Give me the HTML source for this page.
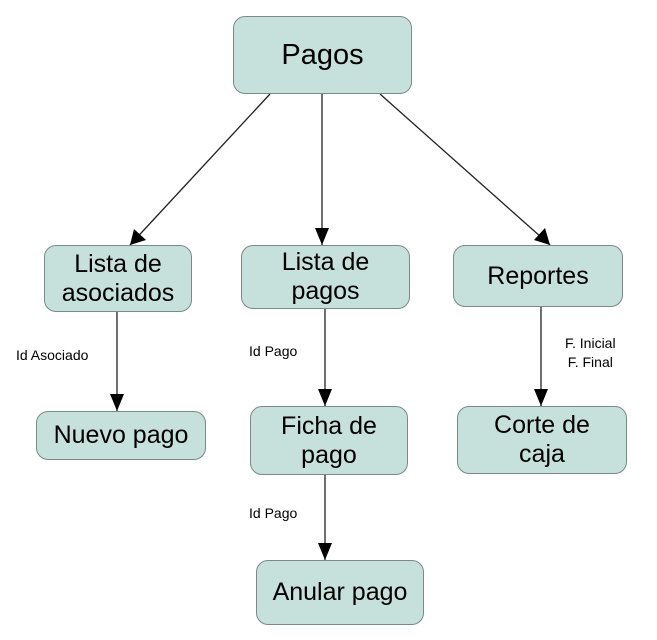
<!DOCTYPE html>
<html><head><style>
body{margin:0;background:#fff;width:657px;height:640px;overflow:hidden;font-family:"Liberation Sans",sans-serif}
.b{position:absolute;background:#c6e0dc;border:1.5px solid #7a8a88;border-radius:12px;box-sizing:border-box;display:flex;align-items:center;justify-content:center;text-align:center;font-size:25px;line-height:29px;color:#000}
.l{position:absolute;font-size:14px;line-height:19px;color:#000}
</style></head><body>
<svg width="657" height="640" style="position:absolute;left:0;top:0">
<g stroke="#222" stroke-width="1.3" fill="none">
<line x1="270" y1="94" x2="130" y2="245"/>
<line x1="322" y1="94" x2="322" y2="245"/>
<line x1="380" y1="94" x2="550" y2="245"/>
<line x1="117" y1="312" x2="117" y2="411"/>
<line x1="325" y1="309" x2="325" y2="406"/>
<line x1="541" y1="307" x2="541" y2="406"/>
<line x1="325" y1="475" x2="325" y2="560"/>
</g>
<g fill="#000">
<polygon points="130,245 134,229 146,240"/>
<polygon points="322,245 315,228 329,228"/>
<polygon points="550,245 534,240 545,228"/>
<polygon points="117,411 110,394 124,394"/>
<polygon points="325,406 318,389 332,389"/>
<polygon points="541,406 534,389 548,389"/>
<polygon points="325,560 318,543 332,543"/>
</g>
</svg>
<div class="b" style="left:233px;top:16px;width:179px;height:78px;font-size:29px">Pagos</div>
<div class="b" style="left:44px;top:245px;width:148px;height:67px">Lista de<br>asociados</div>
<div class="b" style="left:241px;top:245px;width:169px;height:64px">Lista de<br>pagos</div>
<div class="b" style="left:453px;top:245px;width:170px;height:62px">Reportes</div>
<div class="b" style="left:36px;top:411px;width:170px;height:49px">Nuevo pago</div>
<div class="b" style="left:250px;top:406px;width:158px;height:69px">Ficha de<br>pago</div>
<div class="b" style="left:457px;top:406px;width:170px;height:68px">Corte de<br>caja</div>
<div class="b" style="left:256px;top:560px;width:168px;height:65px">Anular pago</div>
<div class="l" style="left:16px;top:346px">Id Asociado</div>
<div class="l" style="left:249px;top:342px">Id Pago</div>
<div class="l" style="left:565px;top:334px;text-align:center">F. Inicial<br>F. Final</div>
<div class="l" style="left:249px;top:504px">Id Pago</div>
</body></html>
